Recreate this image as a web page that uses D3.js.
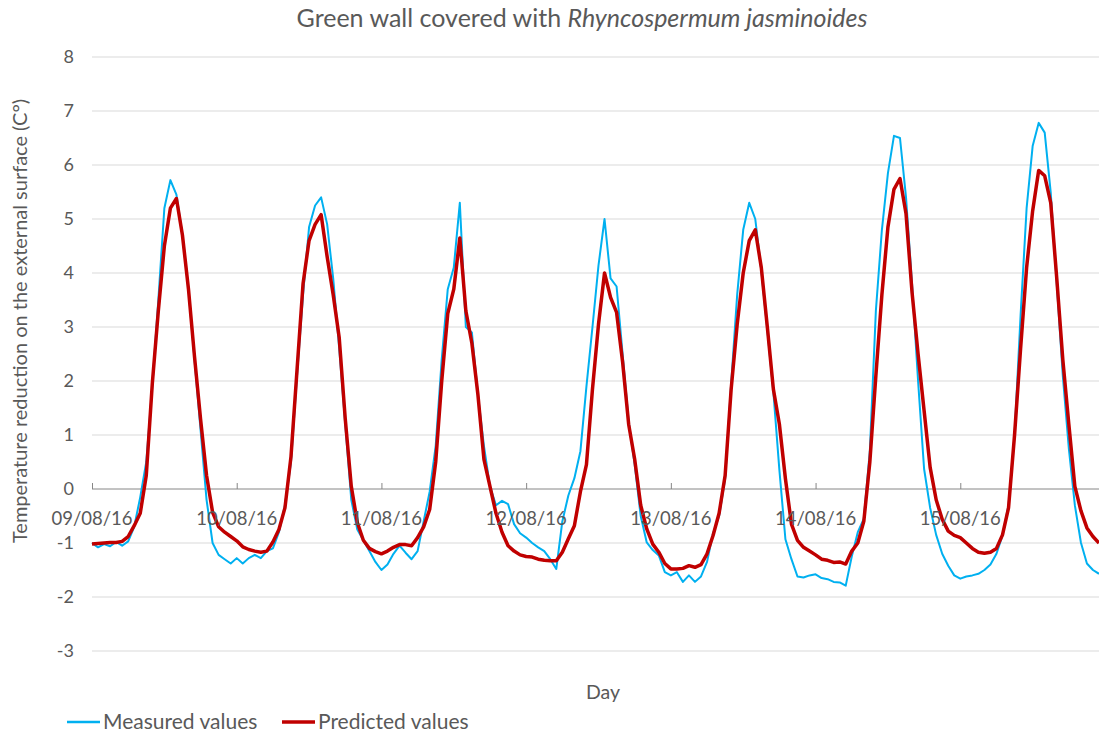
<!DOCTYPE html>
<html>
<head>
<meta charset="utf-8">
<script src="https://cdn.jsdelivr.net/npm/d3@7"></script>
<style>
  body { margin: 0; background: #fff; }
  text { font-family: Lato, "Open Sans", sans-serif; fill: #595959; }
</style>
</head>
<body>
<svg id="chart" width="1099" height="733"></svg>
<script>
// day labels, one tick per midnight
var dayLabels = ["09/08/16", "10/08/16", "11/08/16", "12/08/16", "13/08/16", "14/08/16", "15/08/16"];
var yTicks = [-3, -2, -1, 0, 1, 2, 3, 4, 5, 6, 7, 8];

// hourly readings, starting 09/08/16 00:00
var measured = [
  -1.0, -1.08, -1.02, -1.06, -0.98, -1.05, -0.97, -0.7, -0.15, 0.5, 1.9, 3.5,
  5.2, 5.72, 5.45, 4.7, 3.7, 2.4, 1.1, -0.2, -1.0, -1.22, -1.3, -1.38,
  -1.28, -1.38, -1.28, -1.22, -1.28, -1.15, -1.1, -0.8, -0.3, 0.5, 2.1, 3.6,
  4.85, 5.25, 5.4, 4.9, 3.9, 2.6, 1.2, -0.2, -0.75, -0.95, -1.15, -1.35,
  -1.5, -1.4, -1.2, -1.05, -1.18, -1.3, -1.15, -0.6, -0.05, 0.8, 2.4, 3.7,
  4.1, 5.3, 3.0, 2.9, 1.75, 0.8, 0.05, -0.3, -0.22, -0.28, -0.65, -0.82,
  -0.9, -1.0, -1.08, -1.15, -1.3, -1.48, -0.6, -0.12, 0.2, 0.7, 1.9, 3.0,
  4.14, 5.0, 3.9, 3.75, 2.5, 1.25, 0.45, -0.5, -0.99, -1.13, -1.23, -1.54,
  -1.6, -1.54, -1.72, -1.6, -1.72, -1.62, -1.35, -0.82, -0.5, 0.19, 1.95, 3.6,
  4.8, 5.3, 5.0, 4.05, 2.95, 1.8, 0.35, -0.93, -1.3, -1.62, -1.64, -1.6,
  -1.58, -1.65, -1.67, -1.72, -1.73, -1.79, -1.25, -0.8, -0.55, 0.7, 3.3, 4.8,
  5.85, 6.54, 6.5, 5.4, 3.8, 2.0, 0.37, -0.35, -0.85, -1.2, -1.42, -1.6,
  -1.66, -1.62, -1.6, -1.57, -1.5, -1.4, -1.2, -0.86, -0.3, 1.0, 3.21, 5.2,
  6.35, 6.78, 6.6, 5.49, 3.8, 2.1, 0.75, -0.3, -0.99, -1.38, -1.5, -1.57
];
var predicted = [
  -1.02, -1.01, -1.0, -0.99, -0.99, -0.97, -0.88, -0.68, -0.45, 0.25, 1.95, 3.3,
  4.5, 5.2, 5.38, 4.7, 3.7, 2.45, 1.3, 0.25, -0.43, -0.7, -0.8, -0.88,
  -0.96, -1.07, -1.12, -1.15, -1.17, -1.15, -0.98, -0.75, -0.35, 0.6, 2.2, 3.8,
  4.6, 4.9, 5.08, 4.3, 3.6, 2.8, 1.3, 0.05, -0.62, -0.95, -1.1, -1.16,
  -1.2, -1.15, -1.08, -1.03, -1.03, -1.05, -0.9, -0.7, -0.38, 0.5, 2.0, 3.25,
  3.7, 4.65, 3.3, 2.7, 1.75, 0.55, 0.05, -0.45, -0.8, -1.05, -1.15, -1.22,
  -1.25, -1.26, -1.3, -1.32, -1.33, -1.33, -1.17, -0.92, -0.68, -0.05, 0.45, 1.85,
  3.05, 4.0, 3.55, 3.27, 2.35, 1.2, 0.55, -0.3, -0.74, -1.02, -1.17, -1.38,
  -1.48, -1.48, -1.47, -1.42, -1.45, -1.4, -1.2, -0.86, -0.45, 0.25, 1.85, 3.05,
  4.0, 4.6, 4.8, 4.1, 3.0, 1.85, 1.2, 0.19, -0.65, -0.95, -1.08, -1.15,
  -1.22, -1.3, -1.32, -1.36, -1.35, -1.39, -1.15, -1.0, -0.6, 0.5, 2.1, 3.6,
  4.85, 5.55, 5.75, 5.1, 3.64, 2.5, 1.45, 0.4, -0.2, -0.56, -0.78, -0.86,
  -0.9, -1.0, -1.1, -1.17, -1.19, -1.17, -1.1, -0.85, -0.35, 1.0, 2.6, 4.1,
  5.15, 5.9, 5.8, 5.3, 3.9, 2.4, 1.2, 0.05, -0.4, -0.72, -0.88, -1.0
];

var svg = d3.select("#chart"),
    width = +svg.attr("width"),
    height = +svg.attr("height"),
    margin = { left: 92, right: -6, top: 57, bottom: 82 };

var x = d3.scaleLinear()
    .domain([0, dayLabels.length * 24])
    .range([margin.left, width - margin.right]);
var y = d3.scaleLinear()
    .domain([-3, 8])
    .range([height - margin.bottom, margin.top]);

svg.append("rect").attr("width", width).attr("height", height).attr("fill", "#fff");

// horizontal gridlines
svg.append("g")
    .selectAll("line")
    .data(yTicks.filter((d) => d !== 0))
    .join("line")
    .attr("x1", margin.left)
    .attr("x2", width)
    .attr("y1", (d) => y(d))
    .attr("y2", (d) => y(d))
    .attr("stroke", "#d9d9d9")
    .attr("stroke-width", 1);

// y axis labels
svg.append("g")
    .selectAll("text")
    .data(yTicks)
    .join("text")
    .attr("x", 74)
    .attr("y", (d) => y(d))
    .attr("dy", "0.35em")
    .attr("text-anchor", "end")
    .style("font-size", "18px")
    .text((d) => d);

// x axis sitting on zero
var dayTicks = d3.range(dayLabels.length).map((i) => i * 24);
var xAxis = svg.append("g")
    .attr("transform", `translate(0,${y(0)})`)
    .call(d3.axisTop(x).tickValues(dayTicks).tickSize(6).tickFormat(""));
xAxis.select(".domain").attr("stroke", "#868686").attr("d", `M${margin.left},0H${width}`);
xAxis.selectAll(".tick line").attr("stroke", "#868686");

var line = d3.line()
    .x((d, i) => x(i))
    .y((d) => y(d));

svg.append("path")
    .datum(measured)
    .attr("fill", "none")
    .attr("stroke", "#00b0f0")
    .attr("stroke-width", 2)
    .attr("stroke-linejoin", "round")
    .attr("d", line);

svg.append("path")
    .datum(predicted)
    .attr("fill", "none")
    .attr("stroke", "#c00000")
    .attr("stroke-width", 3.5)
    .attr("stroke-linejoin", "round")
    .attr("d", line);

// day labels drawn over the lines, under the zero axis
svg.append("g")
    .selectAll("text")
    .data(dayLabels)
    .join("text")
    .attr("x", (d, i) => x(i * 24))
    .attr("y", y(0) + 36)
    .attr("text-anchor", "middle")
    .style("font-size", "18.5px")
    .text((d) => d);

// title
var title = svg.append("text")
    .attr("x", 582)
    .attr("y", 27)
    .attr("text-anchor", "middle")
    .style("font-size", "25px");
title.append("tspan").text("Green wall covered with ");
title.append("tspan").style("font-style", "italic").text("Rhyncospermum jasminoides");

// axis titles
svg.append("text")
    .attr("transform", "translate(27,321) rotate(-90)")
    .attr("text-anchor", "middle")
    .style("font-size", "20px")
    .text("Temperature reduction on the external surface (C°)");

svg.append("text")
    .attr("x", 603)
    .attr("y", 699)
    .attr("text-anchor", "middle")
    .style("font-size", "19.5px")
    .text("Day");

// legend
var legend = [
  { name: "Measured values", color: "#00b0f0", w: 2.5, x: 67 },
  { name: "Predicted values", color: "#c00000", w: 3.5, x: 282 }
];
var lg = svg.append("g").selectAll("g").data(legend).join("g")
    .attr("transform", (d) => `translate(${d.x},722)`);
lg.append("line")
    .attr("x1", 0).attr("x2", 33)
    .attr("stroke", (d) => d.color)
    .attr("stroke-width", (d) => d.w);
lg.append("text")
    .attr("x", 36)
    .attr("y", 7)
    .style("font-size", "21px")
    .text((d) => d.name);
</script>
</body>
</html>
